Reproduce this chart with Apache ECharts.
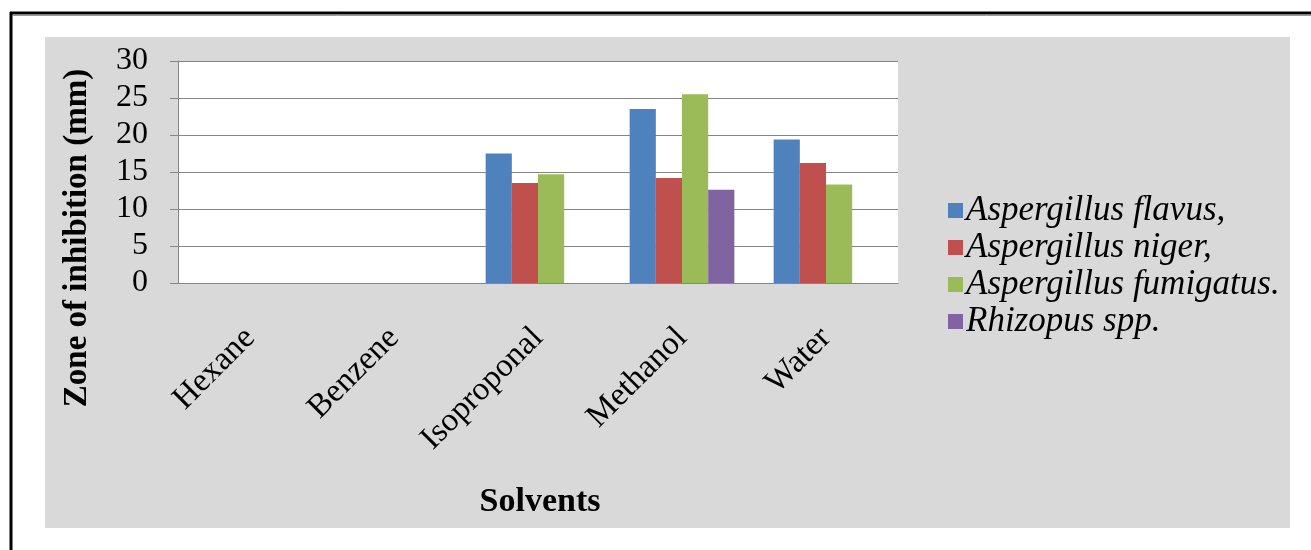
<!DOCTYPE html>
<html>
<head>
<meta charset="utf-8">
<script src="https://cdn.jsdelivr.net/npm/echarts@6/dist/echarts.min.js"></script>
<style>
  html, body { margin: 0; padding: 0; background: #fff; }
  #chart { width: 1311px; height: 550px; }
</style>
</head>
<body>
<div id="chart"></div>
<script>
// Solvent extracts tested and zone of inhibition (mm) per fungus
const solvents = ['Hexane', 'Benzene', 'Isoproponal', 'Methanol', 'Water'];
const seriesNames = ['Aspergillus flavus,', 'Aspergillus niger,', 'Aspergillus fumigatus.', 'Rhizopus spp.'];
const flavus    = [0, 0, 17.5, 23.5, 19.4];
const niger     = [0, 0, 13.5, 14.2, 16.2];
const fumigatus = [0, 0, 14.7, 25.5, 13.3];
const rhizopus  = [0, 0, 0, 12.6, 0];
const yTicks = { min: 0, max: 30, interval: 5 };

const palette = ['#4f81bd', '#c0504d', '#9bbb59', '#8064a2'];
const serif = '"Liberation Serif", "Times New Roman", serif';
const values = [flavus, niger, fumigatus, rhizopus];

const chart = echarts.init(document.getElementById('chart'), null, { renderer: 'canvas' });

chart.setOption({
  backgroundColor: '#ffffff',
  animation: false,
  color: palette,
  graphic: [
    // framed sheet and grey chart area
    { type: 'rect', z: -10, shape: { x: 45, y: 37, width: 1245, height: 491 }, style: { fill: '#d9d9d9' } },
    { type: 'line', z: -5, shape: { x1: 10, y1: 13, x2: 1311, y2: 13 }, style: { stroke: '#000', lineWidth: 3 } },
    { type: 'line', z: -5, shape: { x1: 13, y1: 15.5, x2: 1311, y2: 15.5 }, style: { stroke: '#9a9a9a', lineWidth: 1 } },
    { type: 'line', z: -5, shape: { x1: 11, y1: 12, x2: 11, y2: 550 }, style: { stroke: '#000', lineWidth: 3 } },
    // axis titles
    {
      type: 'text', x: 77, y: 238, rotation: Math.PI / 2,
      style: {
        text: 'Zone of inhibition (mm)', font: 'bold 33px ' + serif,
        fill: '#000', textAlign: 'center', textVerticalAlign: 'middle'
      }
    },
    {
      type: 'text', x: 540, y: 502,
      style: {
        text: 'Solvents', font: 'bold 34px ' + serif,
        fill: '#000', textAlign: 'center', textVerticalAlign: 'middle'
      }
    }
  ],
  legend: {
    orient: 'vertical',
    left: 943,
    top: 187,
    icon: 'rect',
    itemWidth: 15,
    itemHeight: 15,
    itemGap: 0,
    data: seriesNames,
    textStyle: { fontFamily: serif, fontStyle: 'italic', fontSize: 35, color: '#000', lineHeight: 37, padding: [0, 0, 0, -2] }
  },
  grid: {
    left: 178, right: 413, top: 61, bottom: 267,
    show: true, backgroundColor: '#ffffff', borderWidth: 0
  },
  xAxis: {
    type: 'category',
    data: solvents,
    axisLine: { lineStyle: { color: '#868686', width: 1 } },
    axisTick: { show: false },
    axisLabel: {
      rotate: 45, margin: 50, interval: 0,
      fontFamily: serif, fontSize: 33, color: '#000'
    }
  },
  yAxis: {
    type: 'value',
    min: yTicks.min, max: yTicks.max, interval: yTicks.interval,
    axisLine: { show: true, lineStyle: { color: '#868686', width: 1 } },
    axisTick: { show: true, length: 8, lineStyle: { color: '#868686' } },
    splitLine: { lineStyle: { color: '#868686', width: 1 } },
    axisLabel: { margin: 30, fontFamily: serif, fontSize: 32, color: '#000' }
  },
  series: seriesNames.map((name, i) => ({
    name: name,
    type: 'bar',
    data: values[i],
    barGap: '0%',
    barCategoryGap: '27.3%',
    itemStyle: { color: palette[i] }
  }))
});
</script>
</body>
</html>
